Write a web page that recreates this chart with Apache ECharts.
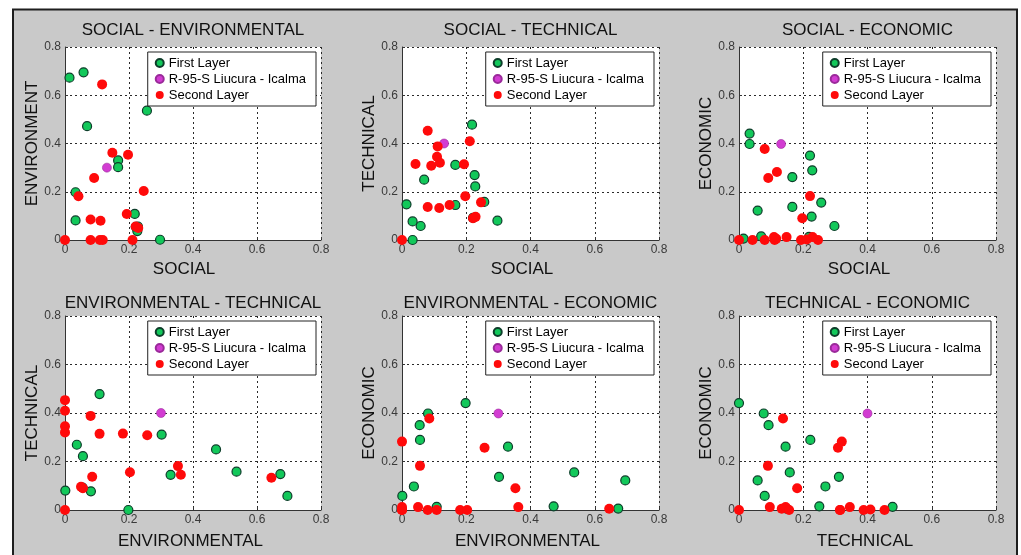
<!DOCTYPE html>
<html>
<head>
<meta charset="utf-8">
<script src="https://cdn.jsdelivr.net/npm/echarts@6/dist/echarts.min.js"></script>
<style>
html,body{margin:0;padding:0;background:#ffffff;}
#chart{width:1021px;height:555px;}
</style>
</head>
<body>
<div id="chart"></div>
<script>
// ---------------- DATA ----------------
const tickValues = [0, 0.2, 0.4, 0.6, 0.8];
const seriesNames = ['First Layer', 'R-95-S Liucura - Icalma', 'Second Layer'];

// First layer (13 roads)
const firstSocial        = [0.014, 0.058, 0.069, 0.256, 0.166, 0.166, 0.033, 0.033, 0.218, 0.226, 0.228, 0.297, 0.221];
const firstEnvironmental = [0.673, 0.695, 0.472, 0.536, 0.330, 0.302, 0.198, 0.081, 0.108, 0.037, 0.056, 0.001, 0.055];
const firstTechnical     = [0.148, 0.058, 0.250, 0.158, 0.145, 0.311, 0.000, 0.077, 0.478, 0.269, 0.222, 0.080, 0.092];
const firstEconomic      = [0.006, 0.122, 0.015, 0.155, 0.261, 0.137, 0.441, 0.398, 0.013, 0.097, 0.289, 0.058, 0.350];

// R-95-S Liucura - Icalma
const refSocial        = [0.131];
const refEnvironmental = [0.300];
const refTechnical     = [0.400];
const refEconomic      = [0.398];

// Second layer (16 roads)
const secondSocial        = [0.116, 0.148, 0.197, 0.091, 0.042, 0.246, 0.193, 0.221, 0.229, 0.080, 0.111, 0.000, 0.080, 0.109, 0.118, 0.211];
const secondEnvironmental = [0.645, 0.362, 0.353, 0.257, 0.181, 0.203, 0.108, 0.056, 0.050, 0.085, 0.080, 0.000, 0.000, 0.000, 0.000, 0.000];
const secondTechnical     = [0.133, 0.145, 0.181, 0.308, 0.315, 0.156, 0.314, 0.090, 0.096, 0.137, 0.388, 0.000, 0.453, 0.345, 0.320, 0.409];
const secondEconomic      = [0.005, 0.012, 0.090, 0.257, 0.000, 0.000, 0.000, 0.182, 0.012, 0.377, 0.000, 0.000, 0.000, 0.012, 0.282, 0.002];

// Panels: which dimensions are plotted against each other
const panelX      = ['social', 'social', 'social', 'environmental', 'environmental', 'technical'];
const panelY      = ['environmental', 'technical', 'economic', 'technical', 'economic', 'economic'];
const panelTitles = ['SOCIAL - ENVIRONMENTAL', 'SOCIAL - TECHNICAL', 'SOCIAL - ECONOMIC',
                     'ENVIRONMENTAL - TECHNICAL', 'ENVIRONMENTAL - ECONOMIC', 'TECHNICAL - ECONOMIC'];
const panelXNames = ['SOCIAL', 'SOCIAL', 'SOCIAL', 'ENVIRONMENTAL', 'ENVIRONMENTAL', 'TECHNICAL'];
const panelYNames = ['ENVIRONMENT', 'TECHNICAL', 'ECONOMIC', 'TECHNICAL', 'ECONOMIC', 'ECONOMIC'];

// ---------------- BUILD ----------------
const layers = [
  {social: firstSocial,  environmental: firstEnvironmental,  technical: firstTechnical,  economic: firstEconomic},
  {social: refSocial,    environmental: refEnvironmental,    technical: refTechnical,    economic: refEconomic},
  {social: secondSocial, environmental: secondEnvironmental, technical: secondTechnical, economic: secondEconomic}
];

const W = 1021;
const FONT = '"Liberation Sans", Arial, Helvetica, sans-serif';
// layout (pixels)
const gridBoxes = [
  {left: 65,  top: 47,  width: 256, height: 193},
  {left: 402, top: 47,  width: 257, height: 193},
  {left: 739, top: 47,  width: 257, height: 193},
  {left: 65,  top: 316, width: 256, height: 194},
  {left: 402, top: 316, width: 257, height: 194},
  {left: 739, top: 316, width: 257, height: 194}
];
const titleTops = [22, 22, 22, 295, 295, 295];
const xNameGaps = [21, 21, 21, 23, 23, 23];
const xNameShift = [18, 17, 17, 5, 6, 5];

const layerStyles = [
  {symbolSize: 9, itemStyle: {color: '#12c85a', borderColor: '#0d3d2a', borderWidth: 1.2, opacity: 1}},
  {symbolSize: 9, itemStyle: {color: '#d23cd2', borderColor: '#9a2a9a', borderWidth: 0.6, opacity: 1}},
  {symbolSize: 10, itemStyle: {color: '#ff0a0a', borderWidth: 0, opacity: 1}}
];

const tMin = tickValues[0], tMax = tickValues[tickValues.length - 1], tInt = tickValues[1] - tickValues[0];

const grids = [], xAxes = [], yAxes = [], titles = [], legends = [], series = [];

gridBoxes.forEach((g, i) => {
  grids.push({left: g.left, top: g.top, width: g.width, height: g.height,
    show: true, backgroundColor: '#ffffff', borderWidth: 0});
  const common = {
    gridIndex: i, type: 'value', min: tMin, max: tMax, interval: tInt,
    nameLocation: 'middle',
    axisLine: {show: true, onZero: false, lineStyle: {color: '#333333', width: 1}},
    axisTick: {show: true, inside: true, length: 3, lineStyle: {color: '#333333'}},
    axisLabel: {fontSize: 12, color: '#3a3a3a', margin: 4, fontFamily: FONT},
    splitLine: {show: true, lineStyle: {color: '#2a2a2a', width: 1, type: [2, 3]}}
  };
  xAxes.push(Object.assign({}, common, {
    name: panelXNames[i], nameGap: xNameGaps[i],
    nameTextStyle: {fontSize: 17, color: '#111111', fontFamily: FONT, padding: [0, xNameShift[i], 0, 0]}
  }));
  yAxes.push(Object.assign({}, common, {
    name: panelYNames[i], nameGap: 24,
    nameTextStyle: {fontSize: 17, color: '#111111', fontFamily: FONT}
  }));
  titles.push({
    text: panelTitles[i], left: g.left + g.width / 2, top: titleTops[i], textAlign: 'center', padding: 0,
    textStyle: {fontSize: 17, fontWeight: 'normal', color: '#111111', fontFamily: FONT}
  });
  legends.push({
    data: seriesNames, orient: 'vertical',
    right: W - (g.left + g.width) + 5, top: g.top + 5,
    backgroundColor: '#ffffff', borderColor: '#222222', borderWidth: 1,
    padding: [4, 10, 4, 7], itemGap: 2, itemWidth: 8, itemHeight: 8, icon: 'circle',
    textStyle: {fontSize: 13, color: '#000000', fontFamily: FONT, lineHeight: 14}
  });
  layers.forEach((layer, k) => {
    const xs = layer[panelX[i]], ys = layer[panelY[i]];
    series.push({
      type: 'scatter', name: seriesNames[k], xAxisIndex: i, yAxisIndex: i,
      symbol: 'circle', symbolSize: layerStyles[k].symbolSize,
      itemStyle: layerStyles[k].itemStyle,
      clip: false,
      data: xs.map((x, j) => [x, ys[j]])
    });
  });
});

const chart = echarts.init(document.getElementById('chart'), null, {renderer: 'canvas'});
chart.setOption({
  animation: false,
  backgroundColor: '#ffffff',
  textStyle: {fontFamily: FONT},
  graphic: [{
    type: 'rect', z: -10, silent: true,
    shape: {x: 13, y: 9.5, width: 1004, height: 560},
    style: {fill: '#c9c9c9', stroke: '#1e1e1e', lineWidth: 2}
  }],
  title: titles,
  legend: legends,
  grid: grids,
  xAxis: xAxes,
  yAxis: yAxes,
  series: series
});
</script>
</body>
</html>
